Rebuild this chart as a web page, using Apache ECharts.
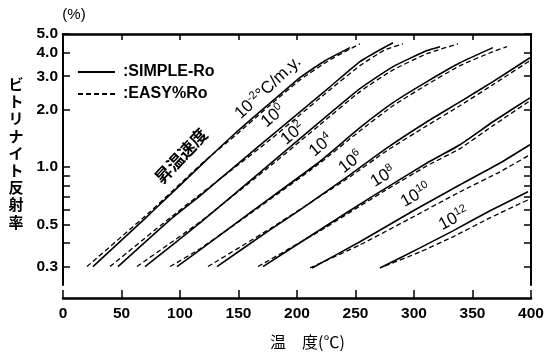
<!DOCTYPE html>
<html>
<head>
<meta charset="utf-8">
<script src="https://cdn.jsdelivr.net/npm/echarts@6/dist/echarts.min.js"></script>
<style>
  html, body { margin: 0; padding: 0; background: #fff; }
  #chart { width: 557px; height: 352px; }
</style>
</head>
<body>
<div id="chart"></div>
<script>
// heating rate of each curve, as power of ten (°C/m.y.)
const rateExp = ['-2', '0', '2', '4', '6', '8', '10', '12']

// SIMPLE-Ro (solid): temperature °C / vitrinite reflectance %
const simpleTemp = [
  [25.6, 74.4, 121.4, 147.0, 174.4, 202.6, 223.9, 245.3],
  [47.0, 91.5, 117.1, 148.7, 176.9, 202.6, 228.2, 253.8, 270.9, 282.1],
  [70.1, 117.1, 180.3, 219.7, 253.8, 282.1, 311.1, 322.2],
  [97.4, 117.1, 159.8, 217.9, 253.8, 282.1, 311.1, 339.3, 367.5],
  [131.6, 176.9, 202.6, 245.3, 276.9, 311.1, 339.3, 367.5, 399.1],
  [170.9, 219.7, 262.4, 273.5, 311.1, 339.3, 367.5, 399.1],
  [212.8, 253.8, 300.9, 339.3, 373.5, 399.1],
  [270.9, 305.1, 333.3, 365.0, 397.4],
]
const simpleRo = [
  [0.30, 0.568, 1.07, 1.50, 2.10, 2.95, 3.62, 4.24],
  [0.30, 0.528, 0.706, 1.03, 1.44, 1.95, 2.64, 3.58, 4.13, 4.50],
  [0.30, 0.509, 1.08, 1.73, 2.58, 3.37, 4.09, 4.29],
  [0.30, 0.367, 0.575, 1.05, 1.61, 2.18, 2.81, 3.53, 4.24],
  [0.30, 0.468, 0.596, 0.91, 1.26, 1.73, 2.20, 2.81, 3.75],
  [0.30, 0.468, 0.689, 0.759, 1.05, 1.31, 1.73, 2.31],
  [0.295, 0.405, 0.596, 0.807, 1.05, 1.31],
  [0.295, 0.376, 0.462, 0.589, 0.741],
]

// EASY%Ro (dashed)
const easyTemp = [
  [20.5, 74.4, 121.4, 147.0, 174.4, 202.6, 228.2, 253.8],
  [40.2, 91.5, 148.7, 176.9, 202.6, 228.2, 253.8, 275.2, 290.6],
  [63.2, 117.1, 180.3, 219.7, 253.8, 282.1, 311.1, 337.6],
  [91.5, 117.1, 159.8, 217.9, 253.8, 282.1, 311.1, 339.3, 367.5, 379.5],
  [123.9, 176.9, 245.3, 276.9, 311.1, 339.3, 367.5, 399.1],
  [166.7, 219.7, 273.5, 311.1, 339.3, 367.5, 399.1],
  [211.1, 253.8, 300.9, 339.3, 373.5, 399.1],
  [275.2, 305.1, 333.3, 365.0, 397.4],
]
const easyRo = [
  [0.30, 0.582, 1.08, 1.46, 2.05, 2.87, 3.66, 4.44],
  [0.30, 0.541, 1.015, 1.39, 1.88, 2.55, 3.41, 4.13, 4.44],
  [0.30, 0.515, 1.05, 1.67, 2.49, 3.24, 3.94, 4.44],
  [0.30, 0.372, 0.568, 1.03, 1.55, 2.10, 2.71, 3.41, 4.04, 4.29],
  [0.30, 0.474, 0.889, 1.22, 1.65, 2.10, 2.71, 3.62],
  [0.30, 0.462, 0.741, 1.015, 1.25, 1.65, 2.23],
  [0.295, 0.39, 0.554, 0.741, 0.944, 1.16],
  [0.302, 0.358, 0.43, 0.541, 0.672],
]

// axes
const xMin = 0, xMax = 400, xStep = 50
const yMin = 0.24, yMax = 5.0
const yTicks = [0.3, 0.4, 0.5, 0.6, 0.7, 0.8, 0.9, 1.0, 2.0, 3.0, 4.0, 5.0]
const yLabels = [0.3, 0.5, 1.0, 2.0, 3.0, 4.0, 5.0]

// curve annotations (anchor in data units, angle in degrees)
const labelTemp = [175.2, 179.5, 196.5, 220.5, 246.0, 273.5, 301.5, 334.0]
const labelRo = [2.61, 1.85, 1.50, 1.30, 1.06, 0.89, 0.71, 0.535]
const labelAngle = [43, 40, 40, 40, 38, 32, 30, 28]

const tickFont = '"Liberation Sans", Arial, sans-serif'
const cjkFont = '"Noto Sans CJK JP", sans-serif'
const lg = (v) => Math.log10(v)

function makeSeries(name, temps, ros, dashed) {
  return temps.map((t, i) => ({
    name,
    type: 'line',
    xAxisIndex: 0,
    yAxisIndex: 0,
    data: t.map((v, j) => [v, lg(ros[i][j])]),
    smooth: 0.15,
    symbol: 'none',
    silent: true,
    lineStyle: dashed
      ? { color: '#000', width: 1.3, type: [5, 3] }
      : { color: '#000', width: 1.6 },
    itemStyle: { color: '#000' },
  }))
}

const yCommon = {
  type: 'value',
  min: lg(yMin),
  max: lg(yMax),
  splitLine: { show: false },
  axisLine: { show: true, onZero: false, lineStyle: { color: '#000', width: 2 } },
  axisTick: {
    show: true,
    inside: true,
    length: 7,
    customValues: yTicks.map(lg),
    lineStyle: { color: '#000', width: 1.5 },
  },
}

// legend icons: solid bar and dashed bar
const solidIcon = 'path://M0,0h37v2h-37z'
const dashIcon = 'path://M0,0h5v2h-5zM8,0h5v2h-5zM16,0h5v2h-5zM24,0h5v2h-5zM32,0h5v2h-5z'

const option = {
  backgroundColor: '#fff',
  animation: false,
  grid: { left: 63, right: 26, top: 34, bottom: 67 },
  legend: {
    orient: 'vertical',
    left: 73,
    top: 58,
    itemWidth: 37,
    itemHeight: 2,
    itemGap: 4,
    data: [
      { name: 'SIMPLE-Ro', icon: solidIcon },
      { name: 'EASY%Ro', icon: dashIcon },
    ],
    formatter: (n) => ':' + n,
    textStyle: {
      fontFamily: tickFont,
      fontWeight: 'bold',
      fontSize: 16,
      lineHeight: 18,
      color: '#000',
      padding: [0, 0, 0, 3],
    },
  },
  xAxis: [
    {
      type: 'value',
      min: xMin,
      max: xMax,
      interval: xStep,
      position: 'bottom',
      offset: 13,
      splitLine: { show: false },
      axisLine: { onZero: false, lineStyle: { color: '#000', width: 2.5 } },
      axisTick: { inside: true, length: 8, lineStyle: { color: '#000', width: 1.5 } },
      axisLabel: {
        margin: 8,
        color: '#000',
        fontFamily: tickFont,
        fontWeight: 'bold',
        fontSize: 15.5,
      },
    },
    {
      type: 'value',
      min: xMin,
      max: xMax,
      interval: xStep,
      position: 'top',
      splitLine: { show: false },
      axisLine: { onZero: false, lineStyle: { color: '#000', width: 2.5 } },
      axisTick: { inside: true, length: 6, lineStyle: { color: '#000', width: 1.5 } },
      axisLabel: { show: false },
    },
  ],
  yAxis: [
    {
      ...yCommon,
      position: 'left',
      axisLabel: {
        show: true,
        margin: 5,
        customValues: yLabels.map(lg),
        formatter: (v) => Math.pow(10, v).toFixed(1),
        color: '#000',
        fontFamily: tickFont,
        fontWeight: 'bold',
        fontSize: 15.5,
      },
    },
    {
      ...yCommon,
      position: 'right',
      axisLabel: { show: false },
    },
  ],
  series: [
    ...makeSeries('SIMPLE-Ro', simpleTemp, simpleRo, false),
    ...makeSeries('EASY%Ro', easyTemp, easyRo, true),
  ],
}

const chart = echarts.init(document.getElementById('chart'))
chart.setOption(option)

// rotated curve labels, placed through the chart's own coordinate system
const rich = {
  b: { fontFamily: tickFont, fontSize: 17, lineHeight: 20, color: '#000' },
  s: { fontFamily: tickFont, fontSize: 11, lineHeight: 11, verticalAlign: 'top', color: '#000' },
}
const curveText = rateExp.map((e, i) => {
  const [x, y] = chart.convertToPixel({ xAxisIndex: 0, yAxisIndex: 0 }, [labelTemp[i], lg(labelRo[i])])
  const unit = i === 0 ? '{b|°C/m.y.}' : ''
  return {
    type: 'text',
    x,
    y,
    z: 100,
    rotation: (labelAngle[i] * Math.PI) / 180,
    style: {
      text: '{b|10}{s|' + e + '}' + unit,
      rich,
      align: 'center',
      verticalAlign: 'middle',
    },
  }
})
const [sx, sy] = chart.convertToPixel({ xAxisIndex: 0, yAxisIndex: 0 }, [100.9, lg(1.146)])

chart.setOption({
  graphic: [
    ...curveText,
    {
      type: 'text',
      x: sx,
      y: sy,
      z: 100,
      rotation: (47 * Math.PI) / 180,
      style: {
        text: '昇温速度',
        font: 'bold 17px ' + cjkFont,
        fill: '#000',
        align: 'center',
        verticalAlign: 'middle',
      },
    },
    {
      type: 'text',
      x: 74,
      y: 15,
      style: {
        text: '(%)',
        font: '15px ' + tickFont,
        fill: '#000',
        align: 'center',
        verticalAlign: 'middle',
      },
    },
    {
      type: 'text',
      x: 16,
      y: 153,
      style: {
        text: 'ビトリナイト反射率'.split('').join('\n'),
        font: 'bold 15px ' + cjkFont,
        lineHeight: 17.2,
        fill: '#000',
        align: 'center',
        verticalAlign: 'middle',
      },
    },
    {
      type: 'text',
      x: 270,
      y: 342,
      style: {
        text: '温　度(℃)',
        font: '16px ' + cjkFont,
        fill: '#000',
        align: 'left',
        verticalAlign: 'middle',
      },
    },
  ],
})
</script>
</body>
</html>
